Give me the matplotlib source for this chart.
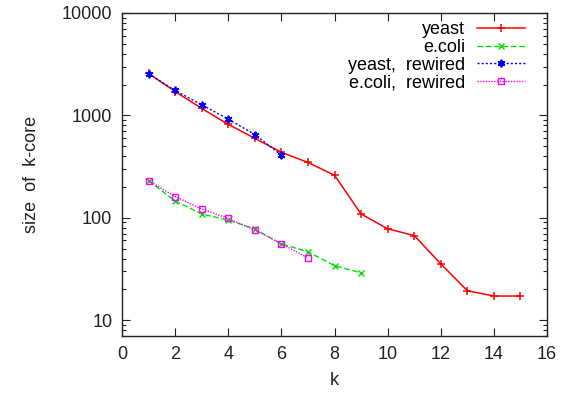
import matplotlib
matplotlib.use('Agg')
import matplotlib.pyplot as plt
from matplotlib.ticker import LogLocator, NullFormatter, FixedLocator

plt.rcParams['font.family'] = ['Liberation Sans', 'DejaVu Sans']

# k-core sizes for each network
k_yeast = [1, 2, 3, 4, 5, 6, 7, 8, 9, 10, 11, 12, 13, 14, 15]
yeast = [2570, 1710, 1170, 817, 597, 436, 347, 260, 109, 78, 67, 35.5, 19.4, 17.2, 17.2]

k_ecoli = [1, 2, 3, 4, 5, 6, 7, 8, 9]
ecoli = [231, 146, 109, 95, 77.6, 55.4, 46.6, 34, 29]

k_yeast_rw = [1, 2, 3, 4, 5, 6]
yeast_rw = [2550, 1750, 1270, 920, 650, 410]

k_ecoli_rw = [1, 2, 3, 4, 5, 6, 7]
ecoli_rw = [231, 161, 122, 98.5, 76, 55.7, 40.5]

fig = plt.figure(figsize=(5.73, 3.94), dpi=100)
ax = fig.add_axes([122 / 573, 1 - 336 / 394, (547 - 122) / 573, (336 - 13) / 394])

ax.plot(k_yeast, yeast, color='#ff0000', lw=1.1, marker='+', ms=5.5, mew=1.1,
        label='yeast')
ax.plot(k_ecoli, ecoli, color='#00e000', lw=1.0, ls=(0, (4, 2)), marker='x',
        ms=4.5, mew=1.0, label='e.coli')
ax.plot(k_yeast_rw, yeast_rw, color='#0000ff', lw=1.0, ls=(0, (1.5, 1.5)),
        marker=(6, 2, 0), ms=5.5, mew=1.3, label='yeast,  rewired')
ax.plot(k_ecoli_rw, ecoli_rw, color='#ff00ff', lw=1.0, ls=(0, (1, 1)),
        marker='s', ms=5, mfc='none', mew=1.0, label='e.coli,  rewired')

ax.set_yscale('log')
ax.set_xlim(0, 16)
ax.set_ylim(7, 10000)
ax.xaxis.set_major_locator(FixedLocator(range(0, 17, 2)))
ax.yaxis.set_minor_locator(LogLocator(base=10, subs=range(2, 10), numticks=10))
ax.yaxis.set_minor_formatter(NullFormatter())
ax.set_yticks([10, 100, 1000, 10000])
ax.set_yticklabels(['10', '100', '1000', '10000'])

ax.tick_params(which='both', direction='in', top=True, right=True,
               labelsize=13, colors='#222222', labelcolor='#222222')
ax.tick_params(which='major', length=6, width=0.8, pad=7)
ax.tick_params(which='minor', length=3, width=0.8)
for s in ax.spines.values():
    s.set_linewidth(1.0)
    s.set_color('#222222')

ax.set_xlabel('k', fontsize=13, color='#222222', labelpad=7)
ax.set_ylabel('size  of  k-core', fontsize=13, color='#222222', labelpad=16)

ax.legend(loc='upper right', frameon=False, markerfirst=False, fontsize=13,
          handlelength=2.65, handletextpad=0.66, labelspacing=0.05,
          borderpad=0, borderaxespad=0,
          bbox_to_anchor=(525 / 573, 1 - 21 / 394), bbox_transform=fig.transFigure)

fig.savefig('out.png', dpi=100)
